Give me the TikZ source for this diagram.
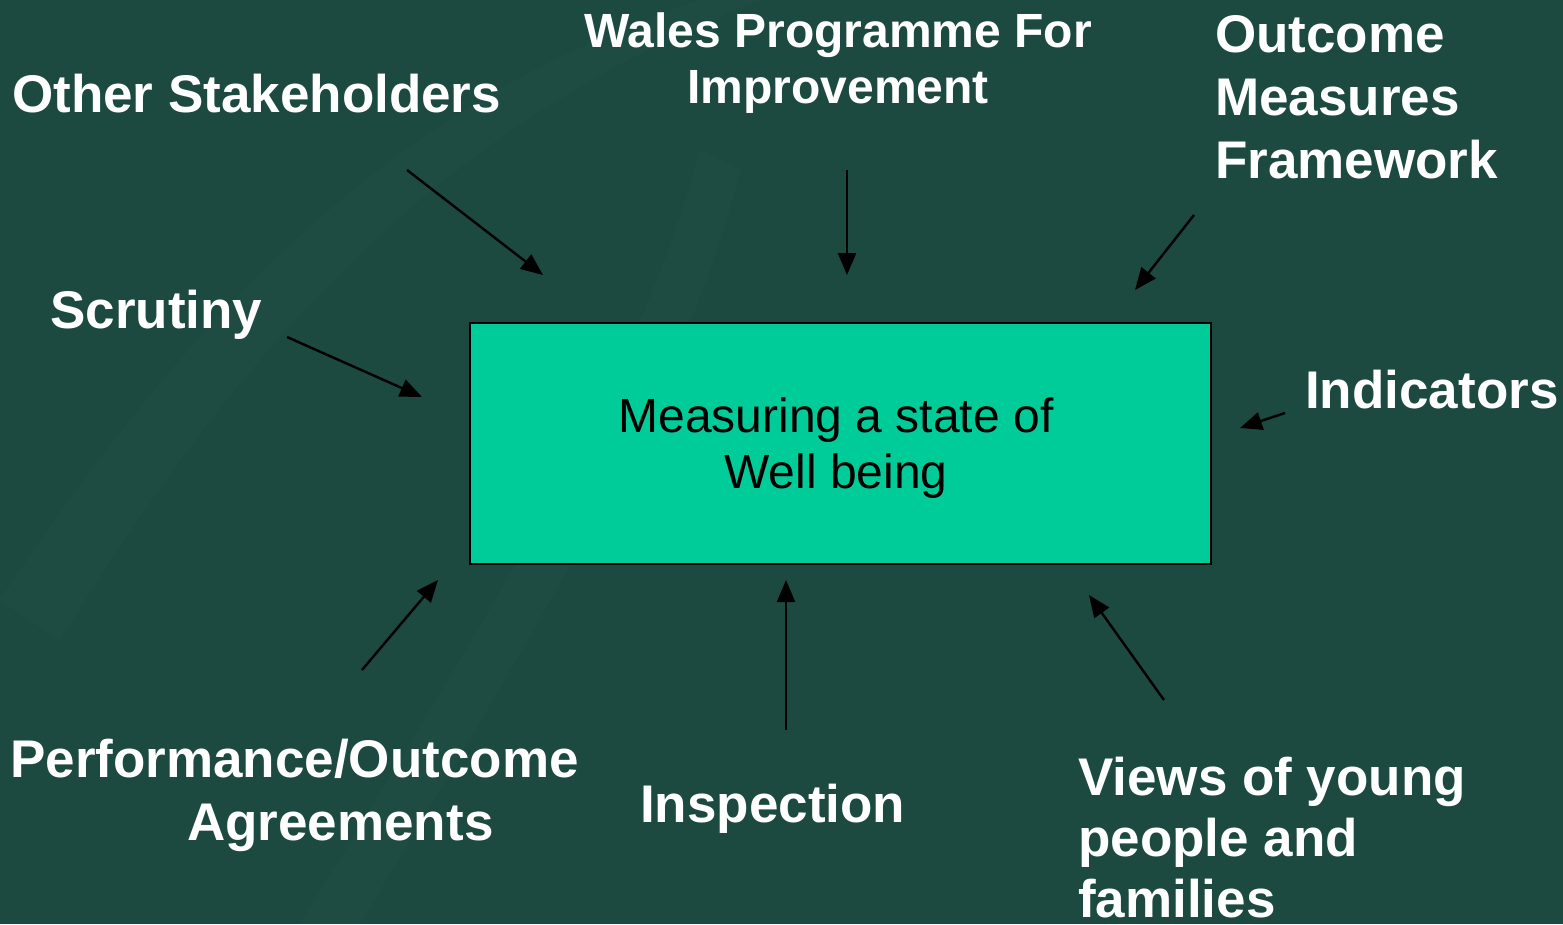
\documentclass[tikz,border=0pt]{standalone}
\usepackage{fontspec}
\setmainfont{Liberation Sans}
\usetikzlibrary{arrows.meta}
\definecolor{bg}{HTML}{1C4A40}
\definecolor{boxfill}{HTML}{00CC99}
\tikzset{
  lbl/.style={text=white, font=\fontsize{53}{63}\selectfont\bfseries, inner sep=0pt},
  conn/.style={draw=black, line width=2.4pt, -{Triangle[length=22pt,width=18pt]}},
}
\begin{document}
\begin{tikzpicture}[x=1pt,y=-1pt]
\fill[bg] (0,0) rectangle (1563,924);
\useasboundingbox (0,0) rectangle (1563,924);
\begin{scope}
\clip (0,0) rectangle (1563,924);
\fill[white,opacity=0.015] (0,600) .. controls (200,300) and (400,100) .. (700,0) -- (760,0) .. controls (450,120) and (250,330) .. (60,640) -- cycle;
\fill[white,opacity=0.015] (300,924) .. controls (500,600) and (650,350) .. (700,150) -- (740,170) .. controls (690,380) and (540,620) .. (360,924) -- cycle;

\node[draw=black, line width=2pt, fill=boxfill, minimum width=741pt, minimum height=241pt, anchor=north west, inner sep=0pt] (box) at (469,322) {};
\node[align=center, font=\fontsize{48}{56}\selectfont, text=black, anchor=base, inner sep=0pt] (boxtext) at (836,488) {Measuring a state of\\Well being};

\node[lbl, anchor=base west] (other) at (12,112) {Other Stakeholders};
\node[lbl, anchor=base, align=center, font=\fontsize{48}{56}\selectfont\bfseries] (wales) at (838,103) {Wales Programme For\\Improvement};
\node[lbl, anchor=base west, align=left] (outcome) at (1215,178) {Outcome\\Measures\\Framework};
\node[lbl, anchor=base west] (scrutiny) at (50,328) {Scrutiny};
\node[lbl, anchor=base west] (indicators) at (1305,408) {Indicators};
\node[lbl, anchor=base west, align=left] (perf) at (10,840) {Performance/Outcome\\\hspace*{177pt}Agreements};
\node[lbl, anchor=base west] (inspection) at (640,822) {Inspection};
\node[lbl, anchor=base west, align=left, font=\fontsize{53}{61}\selectfont\bfseries] (views) at (1078,917) {Views of young\\people and\\families};
\end{scope}

\coordinate (s1) at (407,170); \coordinate (e1) at (543,275);
\coordinate (s2) at (847,170); \coordinate (e2) at (847,275);
\coordinate (s3) at (1194,215); \coordinate (e3) at (1135,290);
\coordinate (s4) at (287,337); \coordinate (e4) at (422,397);
\coordinate (s5) at (1285,413); \coordinate (e5) at (1240,428);
\coordinate (s6) at (362,670); \coordinate (e6) at (438,580);
\coordinate (s7) at (786,730); \coordinate (e7) at (786,580);
\coordinate (s8) at (1164,700); \coordinate (e8) at (1089,595);

\draw[conn] (s1) -- (e1);
\draw[conn] (s2) -- (e2);
\draw[conn] (s3) -- (e3);
\draw[conn] (s4) -- (e4);
\draw[conn] (s5) -- (e5);
\draw[conn] (s6) -- (e6);
\draw[conn] (s7) -- (e7);
\draw[conn] (s8) -- (e8);
\end{tikzpicture}
\end{document}
